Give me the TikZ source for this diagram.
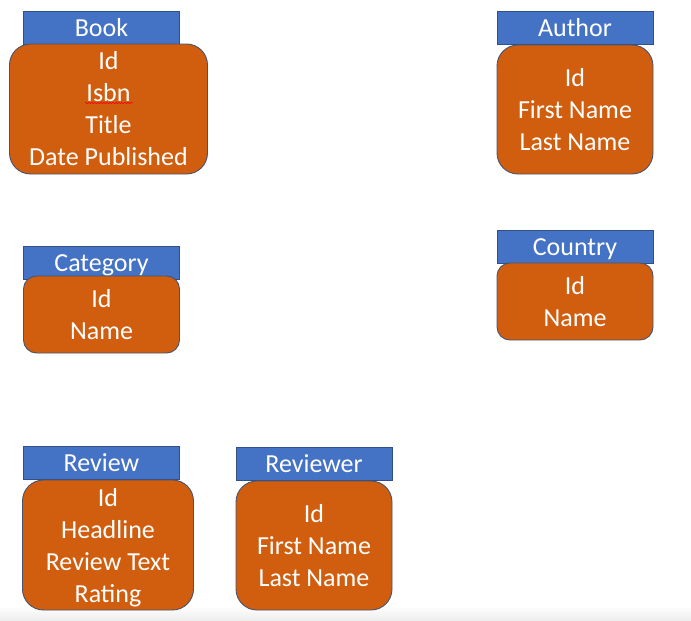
\documentclass[tikz,border=0pt]{standalone}
\usepackage{fontspec}
\setmainfont{Carlito}
\usetikzlibrary{calc,decorations.pathmorphing}

\definecolor{hdrblue}{RGB}{68,114,196}
\definecolor{tblorange}{RGB}{208,94,14}
\definecolor{edgegray}{RGB}{72,84,110}
\definecolor{stripgray}{RGB}{236,236,236}

\tikzset{
    entity/.style={fill=tblorange, draw=edgegray, line width=0.9pt,
        text=white, inner sep=0pt, align=center,
        font=\fontsize{26}{32}\selectfont},
    tbl/.style={entity, rounded corners=#1},
    hdr/.style={fill=hdrblue, draw=hdrblue!70!black, line width=0.6pt,
        text=white, inner sep=0pt, minimum width=156pt, minimum height=33pt,
        font=\fontsize{26}{32}\selectfont, text height=22pt, text depth=5pt}
}

\begin{document}
\begin{tikzpicture}[x=1pt,y=-1pt]
    \useasboundingbox (0,0) rectangle (691,621);
    \shade[top color=white, bottom color=stripgray] (0,606) rectangle (691,621);
    \coordinate (BookH) at (101.5,27.5);
    \coordinate (BookB) at (108.5,109);
    \coordinate (AuthorH) at (575,27.5);
    \coordinate (AuthorB) at (575,109.5);
    \coordinate (CategoryH) at (101.5,263);
    \coordinate (CategoryB) at (101.5,314.5);
    \coordinate (CountryH) at (575,246.5);
    \coordinate (CountryB) at (575,301.5);
    \coordinate (ReviewH) at (101.5,463);
    \coordinate (ReviewB) at (108,545);
    \coordinate (ReviewerH) at (314,464);
    \coordinate (ReviewerB) at (314,545.5);
    \node[hdr] (book) at (BookH) {Book};
    \node[hdr] (author) at (AuthorH) {Author};
    \node[hdr] (category) at (CategoryH) {Category};
    \node[hdr] (country) at (CountryH) {Country};
    \node[hdr] (review) at (ReviewH) {Review};
    \node[hdr] (reviewer) at (ReviewerH) {Reviewer};
    \node[tbl=21pt, minimum width=198pt, minimum height=130pt] (bookfields) at (BookB) {Id\\Isbn\\Title\\Date Published};
    \node[tbl=21pt, minimum width=156pt, minimum height=129pt] (authorfields) at (AuthorB) {Id\\First Name\\Last Name};
    \node[tbl=13pt, minimum width=156pt, minimum height=77pt] (categoryfields) at (CategoryB) {Id\\Name};
    \node[tbl=13pt, minimum width=156pt, minimum height=77pt] (countryfields) at (CountryB) {Id\\Name};
    \node[tbl=21pt, minimum width=171pt, minimum height=130pt] (reviewfields) at (ReviewB) {Id\\Headline\\Review Text\\\smash{Rating}};
    \node[tbl=21pt, minimum width=156pt, minimum height=129pt] (reviewerfields) at (ReviewerB) {Id\\First Name\\Last Name};
    % spell-check squiggle under Isbn
    \coordinate (S1) at (85,103);
    \coordinate (S2) at (133,103);
    \draw[red, line width=0.6pt, decorate, decoration={snake, amplitude=0.8pt, segment length=3pt}] (S1) -- (S2);
\end{tikzpicture}
\end{document}
